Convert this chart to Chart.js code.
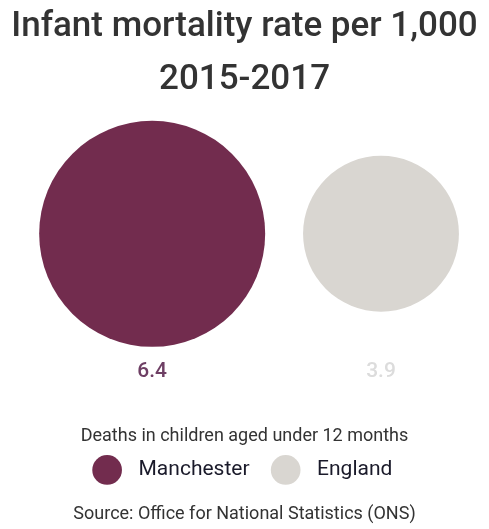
<!DOCTYPE html>
<html>
<head>
<meta charset="utf-8">
<script src="https://cdn.jsdelivr.net/npm/chart.js@4"></script>
<style>
  html, body { margin: 0; padding: 0; background: #fff; }
  #wrap { width: 489px; height: 529px; }
</style>
</head>
<body>
<div id="wrap"><canvas id="chart" width="489" height="529"></canvas></div>
<script>
const areas = ["Manchester", "England"];
const rates = [6.4, 3.9];
const colours = ["#722c4e", "#d9d6d1"];
const labelColours = ["#6e3f64", "#dcdcdc"];

const maxRate = Math.max(...rates);

// one dataset per area so the legend shows both
const datasets = areas.map((name, i) => ({
    label: name,
    data: [{ x: i, y: 0, v: rates[i] }],
    backgroundColor: colours[i],
    borderWidth: 0,
    hoverBorderWidth: 0,
    clip: false,
    radius: ctx => 113 * Math.pow(ctx.raw.v / maxRate, 0.75)
}));

new Chart(document.getElementById("chart"), {
    type: "bubble",
    data: { datasets: datasets },
    options: {
        responsive: false,
        animation: false,
        layout: { autoPadding: false, padding: 0 },
        scales: {
            x: {
                type: "linear",
                min: -0.665,
                max: 1.472,
                grid: { display: false },
                border: { display: false },
                afterBuildTicks: axis => { axis.ticks = rates.map((r, i) => ({ value: i })); },
                ticks: {
                    padding: 7,
                    font: { family: "Roboto", size: 21, weight: "500" },
                    color: ctx => labelColours[ctx.index],
                    callback: (value, index) => rates[index].toFixed(1)
                }
            },
            y: { display: false, min: -1, max: 1 }
        },
        plugins: {
            title: {
                display: true,
                text: ["Infant mortality rate per 1,000", "2015-2017"],
                color: "#333333",
                font: { family: "Roboto", size: 35, weight: "500", lineHeight: 1.5 },
                padding: { top: 1, bottom: 17 }
            },
            legend: {
                position: "bottom",
                title: {
                    display: true,
                    text: "Deaths in children aged under 12 months",
                    color: "#333333",
                    font: { family: "Roboto", size: 18 },
                    padding: { top: 36, bottom: 0 }
                },
                labels: {
                    usePointStyle: true,
                    pointStyle: "circle",
                    color: "#1a1a2a",
                    padding: 10,
                    font: { family: "Roboto", size: 21 },
                    // spaces give the gaps between marker, text and next item
                    generateLabels: chart => Chart.defaults.plugins.legend.labels.generateLabels(chart)
                        .map((item, i, all) => ({
                            ...item,
                            text: "  " + item.text + (i < all.length - 1 ? "   " : "")
                        }))
                }
            },
            subtitle: {
                display: true,
                position: "bottom",
                text: "Source: Office for National Statistics (ONS)",
                color: "#333333",
                font: { family: "Roboto", size: 18 },
                padding: { top: 13, bottom: 4 }
            },
            tooltip: { enabled: false }
        }
    }
});
</script>
</body>
</html>
